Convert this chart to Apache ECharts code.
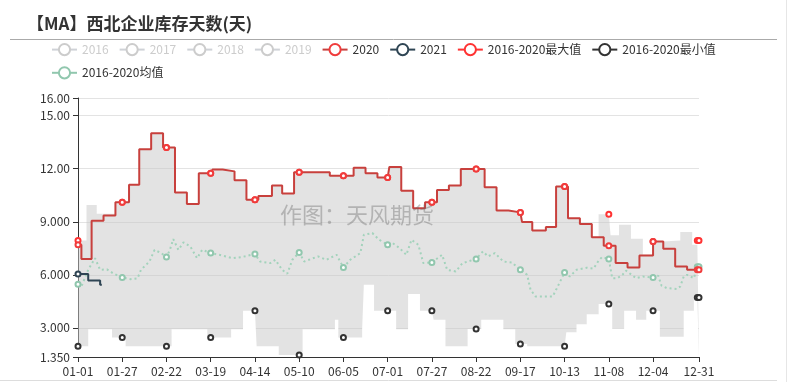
<!DOCTYPE html>
<html><head><meta charset="utf-8">
<script src="https://cdn.jsdelivr.net/npm/echarts@6/dist/echarts.min.js"></script>
<style>html,body{margin:0;padding:0;background:#fff}#c{width:789px;height:382px}</style>
</head><body><div id="c"></div>
<script>
const FONT = "'Microsoft YaHei','Noto Sans CJK SC',sans-serif";
const titleText = '【MA】西北企业库存天数(天)';
const watermark = '作图：天风期货';

// categories: MM-DD of a leap year (366 days)
const categories = [];
for (let d = new Date(Date.UTC(2020, 0, 1)); d.getUTCFullYear() === 2020; d.setUTCDate(d.getUTCDate() + 1)) {
  categories.push(String(d.getUTCMonth() + 1).padStart(2, '0') + '-' + String(d.getUTCDate()).padStart(2, '0'));
}

const legendNames = ['2016', '2017', '2018', '2019', '2020', '2021', '2016-2020最大值', '2016-2020最小值', '2016-2020均值'];

// y-axis tick values
const yTicks = [1.35, 3, 6, 9, 12, 15, 16];

// [day index, value]
const y2016 = [];
const y2017 = [];
const y2018 = [];
const y2019 = [];
const y2020 = [[0,7.7],[2,6.9],[8,9.05],[15,9.35],[22,10.1],[26,10.1],[30,11.1],[36,13.1],[43,14.0],[50,13.2],[52,13.2],[57,10.65],[64,10.0],[71,11.75],[78,11.75],[79,11.95],[85,11.85],[92,11.35],[99,10.25],[104,10.25],[106,10.45],[114,11.05],[120,10.6],[127,11.8],[130,11.8],[148,11.6],[156,11.6],[162,12.05],[169,11.75],[176,11.5],[182,11.5],[183,12.1],[190,10.75],[197,9.77],[204,10.1],[208,10.1],[211,10.8],[218,11.05],[225,11.98],[234,11.98],[239,10.95],[246,9.64],[253,9.53],[260,9.53],[261,8.98],[267,8.51],[275,8.7],[281,11.0],[286,11.0],[288,9.2],[295,8.87],[302,8.13],[309,7.64],[312,7.64],[316,6.66],[323,6.41],[330,7.09],[338,7.88],[344,7.47],[351,6.47],[358,6.28],[364,6.28],[365,6.28]];
const y2021 = [[0,6.05],[6,5.68],[13,5.43],[14,5.43]];
const yMax = [[0,7.94],[5,9.95],[11,9.45],[22,10.1],[26,10.1],[30,11.1],[36,13.1],[43,14.0],[50,13.2],[52,13.2],[57,10.65],[64,10.0],[71,11.75],[78,11.75],[79,11.95],[85,11.85],[92,11.35],[99,10.25],[104,10.25],[106,10.45],[114,11.05],[120,10.6],[127,11.8],[130,11.8],[148,11.6],[156,11.6],[162,12.05],[169,11.75],[176,11.5],[182,11.5],[183,12.1],[190,10.75],[197,9.77],[204,10.1],[208,10.1],[211,10.8],[218,11.05],[225,11.98],[234,11.98],[239,10.95],[246,9.64],[253,9.53],[260,9.53],[261,8.98],[267,8.51],[275,8.7],[281,11.0],[286,11.0],[288,9.2],[295,8.87],[302,8.13],[306,9.43],[312,9.43],[313,8.23],[318,8.83],[325,8.04],[332,7.13],[338,7.88],[344,7.94],[354,8.42],[361,7.7],[364,7.94],[365,7.94]];
const yMin = [[0,1.96],[6,2.92],[20,2.45],[26,2.45],[28,1.96],[52,1.96],[55,2.92],[76,2.45],[78,2.45],[90,2.92],[97,3.96],[104,3.96],[105,1.96],[118,1.47],[130,1.47],[132,2.92],[151,3.45],[153,2.45],[156,2.45],[167,2.92],[168,5.43],[174,3.96],[182,3.96],[187,2.92],[194,4.92],[201,3.96],[208,3.96],[209,3.45],[216,1.96],[229,2.94],[234,2.94],[237,3.45],[250,2.92],[257,2.08],[260,2.08],[264,1.96],[286,1.96],[287,2.75],[293,3.2],[299,3.77],[306,4.35],[312,4.35],[314,2.95],[321,3.96],[328,3.45],[334,3.96],[338,3.96],[342,2.5],[356,3.96],[362,4.71],[364,4.71],[365,4.71]];
const yMean = [[0,5.47],[2,5.34],[6,6.28],[10,6.94],[13,6.28],[17,6.31],[21,6.06],[26,5.85],[31,5.75],[35,5.8],[37,6.28],[42,6.75],[45,7.41],[49,7.22],[52,7.0],[54,7.41],[56,8.02],[59,7.41],[62,7.83],[66,7.6],[70,6.94],[73,7.41],[78,7.23],[83,7.13],[91,6.94],[96,7.0],[104,7.17],[107,6.75],[113,6.66],[116,6.85],[120,6.28],[123,6.06],[126,6.85],[130,7.26],[133,6.75],[141,7.04],[146,6.85],[152,7.13],[156,6.41],[160,6.85],[166,7.23],[168,8.26],[173,8.36],[177,7.98],[182,7.7],[185,7.79],[189,7.51],[193,7.13],[196,7.98],[200,7.7],[203,6.66],[208,6.7],[214,7.13],[217,6.28],[222,6.19],[226,6.66],[234,6.9],[238,7.32],[241,7.04],[245,7.23],[250,6.75],[255,6.7],[260,6.28],[264,6.0],[266,5.15],[269,4.77],[279,4.77],[281,5.15],[286,6.13],[289,5.9],[293,6.28],[299,6.4],[303,6.35],[306,6.8],[308,7.0],[312,6.89],[314,5.81],[317,5.81],[320,6.0],[322,6.24],[324,6.1],[328,5.81],[332,5.9],[338,5.85],[341,5.95],[343,5.38],[346,5.25],[352,5.2],[354,5.34],[356,5.9],[358,6.0],[362,5.81],[364,6.45],[365,6.45]];

const chart = echarts.init(document.getElementById('c'), null, {renderer: 'canvas'});

function lineSeries(name, data, color, extra) {
  return Object.assign({
    name: name, type: 'line', data: data,
    symbol: 'emptyCircle', symbolSize: 5, showAllSymbol: 'auto',
    itemStyle: {color: color, borderWidth: 1.5},
    lineStyle: {color: color, width: 2},
    emphasis: {disabled: true},
    animation: false
  }, extra || {});
}

const option = {
  animation: false,
  textStyle: {fontFamily: FONT},
  title: {
    text: titleText, left: 22, top: 10,
    textStyle: {fontSize: 17, fontWeight: 'bold', color: '#333', fontFamily: FONT}
  },
  legend: {
    left: 46, top: 38, right: 10,
    itemGap: 10, itemWidth: 25, itemHeight: 14,
    inactiveColor: '#ccc',
    textStyle: {fontSize: 12, color: '#333', fontFamily: FONT},
    selected: {'2016': false, '2017': false, '2018': false, '2019': false},
    data: [
      '2016', '2017', '2018', '2019', '2020', '2021',
      {name: '2016-2020最大值', lineStyle: {opacity: 1}},
      {name: '2016-2020最小值', lineStyle: {opacity: 1}},
      {name: '2016-2020均值', lineStyle: {type: 'solid', color: '#91c7ae'}}
    ]
  },
  grid: {left: 78, right: 90, top: 98, bottom: 25, containLabel: false, outerBoundsMode: 'none'},
  xAxis: {
    type: 'category', data: categories, boundaryGap: false,
    axisLine: {lineStyle: {color: '#333'}},
    axisTick: {lineStyle: {color: '#333'}},
    axisLabel: {interval: 25, showMaxLabel: true, color: '#333', fontSize: 12, fontFamily: FONT, margin: 8},
    splitLine: {show: false}
  },
  yAxis: {
    type: 'value', min: yTicks[0], max: yTicks[yTicks.length - 1],
    axisLine: {show: true, lineStyle: {color: '#333'}},
    axisTick: {show: true, customValues: yTicks, lineStyle: {color: '#333'}},
    splitLine: {lineStyle: {color: '#e3e3e3'}},
    axisLabel: {customValues: yTicks, formatter: function (v) { return Number(v).toPrecision(4); }, color: '#333', fontSize: 12, fontFamily: FONT}
  },
  graphic: [
    {type: 'line', shape: {x1: 10, y1: 39.5, x2: 777, y2: 39.5}, style: {stroke: '#aaa', lineWidth: 1}, silent: true},
    {type: 'line', shape: {x1: 0, y1: 380.5, x2: 777, y2: 380.5}, style: {stroke: '#ddd', lineWidth: 1}, silent: true},
    {type: 'line', shape: {x1: 786.5, y1: 0, x2: 786.5, y2: 382}, style: {stroke: '#e6e6e6', lineWidth: 1}, silent: true},
    {type: 'text', left: 280, top: 204, z: 100, silent: true,
     style: {text: watermark, fontSize: 22, fill: 'rgba(100,100,100,0.38)', fontFamily: FONT}}
  ],
  series: [
    lineSeries('2016-2020最大值', yMax, '#ff3333', {
      step: 'end', lineStyle: {color: '#ff3333', width: 2, opacity: 0},
      areaStyle: {color: 'rgba(200,200,200,0.5)', opacity: 1, origin: 'start'}
    }),
    lineSeries('2016-2020最小值', yMin, '#333333', {
      step: 'end', lineStyle: {color: '#333333', width: 2, opacity: 0},
      areaStyle: {color: '#ffffff', opacity: 1, origin: 'start'}
    }),
    lineSeries('2016-2020均值', yMean, '#91c7ae', {
      lineStyle: {color: '#a3d3bc', width: 2, type: [2, 3]}
    }),
    lineSeries('2021', y2021, '#2f4554', {step: 'end'}),
    lineSeries('2020', y2020, '#c8403d', {step: 'end', itemStyle: {color: '#f03c3c', borderWidth: 1.5}}),
    lineSeries('2016', y2016, '#61a0a8'),
    lineSeries('2017', y2017, '#d48265'),
    lineSeries('2018', y2018, '#749f83'),
    lineSeries('2019', y2019, '#ca8622')
  ]
};
chart.setOption(option);
</script>
</body></html>
